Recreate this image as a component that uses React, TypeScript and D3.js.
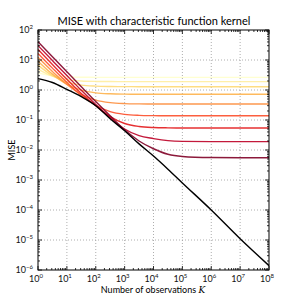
import React, { useEffect, useRef } from 'react';
import * as d3 from 'd3';

// sample positions (number of observations K), half decades up to 1e5
const kValues = [1, 3.16, 10, 31.6, 100, 316, 1e3, 3160, 1e4, 31600, 1e5, 1e6, 1e7, 1e8];

// black: optimal MISE
const optimal = [2.4, 1.78, 1.05, 0.6, 0.3, 0.11, 0.044, 0.016, 0.0063, 0.0023, 0.0008, 1e-4, 1.1e-5, 1.4e-6];

// coloured lines, light to dark
const line1 = [3.72, 2.97, 2.74, 2.66, 2.64, 2.63, 2.63, 2.63, 2.63, 2.63, 2.63, 2.63, 2.63, 2.63];
const line2 = [5.0, 2.88, 2.21, 2.0, 1.93, 1.91, 1.9, 1.9, 1.9, 1.9, 1.9, 1.9, 1.9, 1.9];
const line3 = [6.76, 3.02, 1.84, 1.46, 1.345, 1.307, 1.295, 1.29, 1.29, 1.29, 1.29, 1.29, 1.29, 1.29];
const line4 = [9.12, 3.38, 1.56, 0.99, 0.804, 0.747, 0.728, 0.723, 0.72, 0.72, 0.72, 0.72, 0.72, 0.72];
const line5 = [12.3, 4.14, 1.54, 0.72, 0.46, 0.378, 0.352, 0.344, 0.341, 0.34, 0.34, 0.34, 0.34, 0.34];
const line6 = [16.6, 5.36, 1.79, 0.66, 0.31, 0.19, 0.154, 0.143, 0.1397, 0.1385, 0.138, 0.138, 0.138, 0.138];
const line7 = [22.4, 7.1, 2.28, 0.76, 0.3, 0.13, 0.0763, 0.061, 0.0562, 0.0547, 0.0542, 0.054, 0.054, 0.054];
const line8 = [30.2, 9.57, 3.04, 0.975, 0.33, 0.12, 0.05, 0.03, 0.024, 0.0205, 0.0194, 0.019, 0.019, 0.019];
const line9 = [40.7, 12.9, 4.08, 1.29, 0.413, 0.138, 0.047, 0.02, 0.011, 0.0072, 0.0061, 0.0056, 0.0055, 0.0055];

const curves = [line1, line2, line3, line4, line5, line6, line7, line8, line9];
const colors = ['#ffffcc', '#ffeda0', '#fed976', '#feb24c', '#fd8d3c', '#fc4e2a', '#e31a1c', '#bd0026', '#800026'];

const xExponents = [0, 1, 2, 3, 4, 5, 6, 7, 8];
const yExponents = [-6, -5, -4, -3, -2, -1, 0, 1, 2];

const FONT = 'Lato, "DejaVu Sans", sans-serif';

const App = () => {
  const ref = useRef<SVGSVGElement>(null);

  useEffect(() => {
    const svg = d3.select(ref.current);
    svg.selectAll('*').remove();

    const left = 38, right = 269, top = 30, bottom = 270;
    const x = d3.scaleLog().domain([1, 1e8]).range([left, right]);
    const y = d3.scaleLog().domain([1e-6, 1e2]).range([bottom, top]);

    // grid
    const grid = svg.append('g').attr('stroke', '#999').attr('stroke-width', 0.8).attr('stroke-dasharray', '1,2');
    xExponents.slice(1, -1).forEach((e) => {
      grid.append('line').attr('x1', x(10 ** e)).attr('x2', x(10 ** e)).attr('y1', top).attr('y2', bottom);
    });
    yExponents.slice(1, -1).forEach((e) => {
      grid.append('line').attr('y1', y(10 ** e)).attr('y2', y(10 ** e)).attr('x1', left).attr('x2', right);
    });

    // curves
    const line = d3
      .line<[number, number]>()
      .x((d) => x(d[0]))
      .y((d) => y(d[1]))
      .curve(d3.curveMonotoneX);

    curves.forEach((vals, i) => {
      svg
        .append('path')
        .attr('d', line(kValues.map((k, j) => [k, vals[j]])))
        .attr('fill', 'none')
        .attr('stroke', colors[i])
        .attr('stroke-opacity', 0.9)
        .attr('stroke-width', 1.4);
    });

    svg
      .append('path')
      .attr('d', line(kValues.map((k, j) => [k, optimal[j]])))
      .attr('fill', 'none')
      .attr('stroke', '#000')
      .attr('stroke-width', 1.4);

    // ticks on all sides, inward
    const ticks = svg.append('g').attr('stroke', '#000').attr('stroke-width', 0.8);
    xExponents.forEach((e) => {
      const xs = [10 ** e];
      if (e < 8) for (let m = 2; m < 10; m++) xs.push(m * 10 ** e);
      xs.forEach((v, i) => {
        const len = i === 0 ? 4 : 2;
        ticks.append('line').attr('x1', x(v)).attr('x2', x(v)).attr('y1', bottom).attr('y2', bottom - len);
        ticks.append('line').attr('x1', x(v)).attr('x2', x(v)).attr('y1', top).attr('y2', top + len);
      });
    });
    yExponents.forEach((e) => {
      const ys = [10 ** e];
      if (e < 2) for (let m = 2; m < 10; m++) ys.push(m * 10 ** e);
      ys.forEach((v, i) => {
        const len = i === 0 ? 4 : 2;
        ticks.append('line').attr('y1', y(v)).attr('y2', y(v)).attr('x1', left).attr('x2', left + len);
        ticks.append('line').attr('y1', y(v)).attr('y2', y(v)).attr('x1', right).attr('x2', right - len);
      });
    });

    // frame
    svg
      .append('rect')
      .attr('x', left)
      .attr('y', top)
      .attr('width', right - left)
      .attr('height', bottom - top)
      .attr('fill', 'none')
      .attr('stroke', '#000')
      .attr('stroke-width', 1);

    // tick labels
    const labels = svg.append('g').attr('font-family', FONT).attr('font-size', 9).attr('fill', '#111');
    xExponents.forEach((e) => {
      const t = labels.append('text').attr('x', x(10 ** e) - 2).attr('y', 282).attr('text-anchor', 'middle');
      t.append('tspan').text('10');
      t.append('tspan').attr('dy', -4).attr('font-size', 6).text(String(e));
    });
    yExponents.forEach((e) => {
      const t = labels.append('text').attr('x', 33).attr('y', y(10 ** e) + 3).attr('text-anchor', 'end');
      t.append('tspan').text('10');
      t.append('tspan').attr('dy', -4).attr('font-size', 6).text(String(e).replace('-', '\u2212'));
    });

    // title and axis labels
    svg
      .append('text')
      .attr('x', 154)
      .attr('y', 25)
      .attr('text-anchor', 'middle')
      .attr('font-family', FONT)
      .attr('font-size', 11)
      .text('MISE with characteristic function kernel');

    const xl = svg
      .append('text')
      .attr('x', 153)
      .attr('y', 293)
      .attr('text-anchor', 'middle')
      .attr('font-family', FONT)
      .attr('font-size', 9);
    xl.append('tspan').text('Number of observations ');
    xl.append('tspan').attr('font-family', '"DejaVu Serif", serif').attr('font-style', 'italic').text('K');

    svg
      .append('text')
      .attr('transform', 'translate(15,150) rotate(-90)')
      .attr('text-anchor', 'middle')
      .attr('font-family', FONT)
      .attr('font-size', 9)
      .text('MISE');
  }, []);

  return <svg ref={ref} width={300} height={300} style={{ position: 'absolute', left: 0, top: 0, background: '#fff' }}></svg>;
};

export default App;
